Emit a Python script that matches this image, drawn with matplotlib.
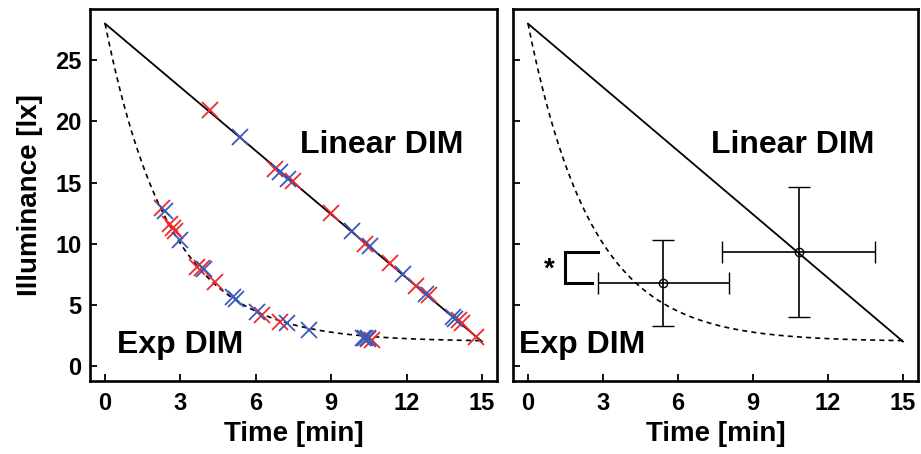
import numpy as np
import matplotlib
matplotlib.use('Agg')
import matplotlib.pyplot as plt

plt.rcParams['font.family'] = ['Liberation Sans', 'DejaVu Sans']
plt.rcParams['font.weight'] = 'bold'

# dimming schedules: 28 lx -> 2 lx over 15 min
t_start, t_end = 0, 15
lx_start, lx_end = 28, 2
tau_exp = 2.55  # time constant of exponential dimming [min]

# individual settings, linear dimming
lin_red_t = [4.16, 6.77, 7.50, 9.00, 10.33, 11.33, 12.39, 12.88, 14.08, 14.21, 14.78]
lin_red_y = [20.9, 16.15, 15.1, 12.5, 10.0, 8.4, 6.5, 5.8, 3.8, 3.5, 2.4]
lin_blue_t = [5.38, 6.97, 7.30, 9.83, 10.56, 11.86, 12.79, 13.85, 13.94]
lin_blue_y = [18.7, 15.9, 15.3, 11.0, 9.8, 7.5, 5.9, 4.0, 3.85]

# individual settings, exponential dimming
exp_red_t = [2.26, 2.59, 2.72, 2.79, 3.65, 3.85, 4.38, 6.24, 6.97, 10.48, 10.64]
exp_red_y = [12.9, 11.6, 11.3, 11.0, 8.1, 8.0, 6.9, 4.2, 3.6, 2.2, 2.15]
exp_blue_t = [2.39, 2.99, 3.92, 5.10, 5.20, 6.04, 7.24, 8.10, 10.27, 10.35, 10.45]
exp_blue_y = [12.65, 10.3, 7.9, 5.6, 5.5, 4.45, 3.5, 2.95, 2.27, 2.27, 2.27]

# means and SD per condition (exp, linear)
mean_t = [5.42, 10.83]
mean_y = [6.78, 9.32]
sd_t = [2.61, 3.07]
sd_y = [3.5, 5.3]

xticks = [0, 3, 6, 9, 12, 15]
yticks = [0, 5, 10, 15, 20, 25]

RED = '#ee2a2c'
BLUE = '#3a5ab8'

t_curve = np.linspace(t_start, t_end, 300)
y_curve = lx_end + (lx_start - lx_end) * np.exp(-t_curve / tau_exp)

fig = plt.figure(figsize=(9.21, 4.54), dpi=100)
ax1 = fig.add_axes([0.0977, 0.1608, 0.4419, 0.8194])
ax2 = fig.add_axes([0.557, 0.1608, 0.4397, 0.8194])

for ax in (ax1, ax2):
    ax.plot([t_start, t_end], [lx_start, lx_end], color='black', lw=1.3)
    ax.plot(t_curve, y_curve, color='black', lw=1.2, ls=(0, (3.0, 2.5)))
    ax.set_xlim(-0.6, 15.6)
    ax.set_ylim(-1.23, 29.2)
    ax.set_xticks(xticks)
    ax.set_yticks(yticks)
    ax.tick_params(direction='in', length=5, width=1.3, labelsize=17)
    ax.tick_params(axis='x', pad=8)
    ax.tick_params(axis='y', pad=6)
    for s in ax.spines.values():
        s.set_linewidth(1.9)
    ax.set_xlabel('Time [min]', fontsize=20, fontweight='bold', labelpad=4)

mk = dict(ls='none', marker='x', markersize=11, mew=1.3)
ax1.plot(lin_red_t, lin_red_y, color=RED, **mk)
ax1.plot(exp_red_t, exp_red_y, color=RED, **mk)
ax1.plot(lin_blue_t, lin_blue_y, color=BLUE, **mk)
ax1.plot(exp_blue_t, exp_blue_y, color=BLUE, **mk)
ax1.set_ylabel('Illuminance [lx]', fontsize=20, fontweight='bold', labelpad=9)

ax1.text(7.77, 17.43, 'Linear DIM', fontsize=23, fontweight='bold')
ax1.text(0.46, 1.04, 'Exp DIM', fontsize=23, fontweight='bold')

ax2.errorbar(mean_t, mean_y, xerr=sd_t, yerr=sd_y, fmt='o', color='black',
             mfc='none', ms=6, mew=1.0, elinewidth=1.2, capsize=8, capthick=1.2)
ax2.set_yticklabels([])

# significance bracket between the two means
ax2.plot([2.82, 1.47, 1.47, 2.58], [mean_y[1], mean_y[1], mean_y[0], mean_y[0]],
         color='black', lw=2.2, solid_joinstyle='miter')
ax2.text(0.86, 7.9, '*', fontsize=20, fontweight='bold', ha='center', va='center')

ax2.text(7.32, 17.43, 'Linear DIM', fontsize=23, fontweight='bold')
ax2.text(-0.37, 1.04, 'Exp DIM', fontsize=23, fontweight='bold')

fig.savefig('out.png', dpi=100)
